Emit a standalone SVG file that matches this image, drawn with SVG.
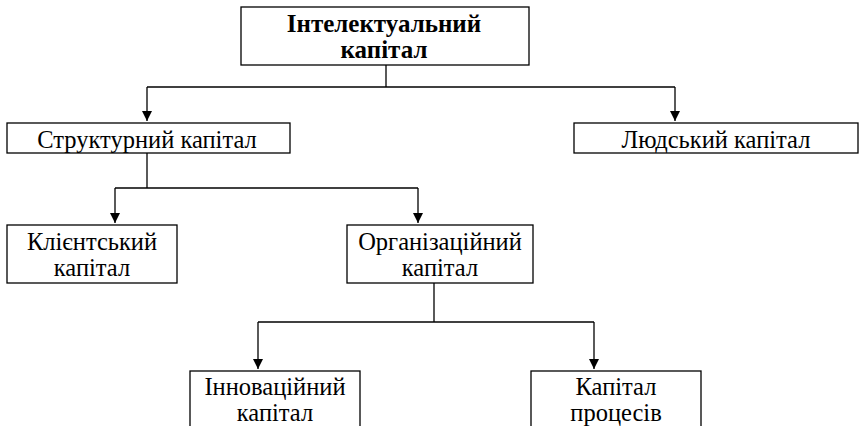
<svg xmlns="http://www.w3.org/2000/svg" width="859" height="426" viewBox="0 0 859 426">
<defs>
<marker id="arr" markerWidth="10" markerHeight="11" refX="10" refY="5" orient="auto" markerUnits="userSpaceOnUse">
<path d="M0,0 L10,5 L0,10 Z" fill="#000"/>
</marker>
</defs>
<style>
rect{fill:#fff;stroke:#000;stroke-width:1.3}
text{font-family:'Liberation Serif','Liberation Sans',serif;font-size:24.5px;fill:#000;text-anchor:middle}
.b{font-weight:bold;font-size:25px}
.c{fill:none;stroke:#000;stroke-width:1.3}
</style>
<rect x="0" y="0" width="859" height="426" style="stroke:none"/>
<g id="connectors">
<path class="c" d="M386,65 V87"/>
<path class="c" d="M147,87 H675"/>
<path class="c" d="M147,87 V121" marker-end="url(#arr)"/>
<path class="c" d="M675,87 V121" marker-end="url(#arr)"/>
<path class="c" d="M147,153 V188"/>
<path class="c" d="M115,188 H418"/>
<path class="c" d="M115,188 V223" marker-end="url(#arr)"/>
<path class="c" d="M418,188 V223" marker-end="url(#arr)"/>
<path class="c" d="M434,283 V322"/>
<path class="c" d="M258,322 H594"/>
<path class="c" d="M258,322 V369" marker-end="url(#arr)"/>
<path class="c" d="M594,322 V369" marker-end="url(#arr)"/>
</g>
<g id="intellectual">
<rect x="241" y="7" width="288" height="58"/>
<text class="b" x="384" y="32">Інтелектуальний</text>
<text class="b" x="384" y="58">капітал</text>
</g>
<g id="structural">
<rect x="7" y="123" width="283" height="30"/>
<text x="147" y="148">Структурний капітал</text>
</g>
<g id="human">
<rect x="574" y="123" width="284" height="30"/>
<text x="716" y="148">Людський капітал</text>
</g>
<g id="client">
<rect x="7" y="225" width="170" height="58"/>
<text x="92" y="250">Клієнтський</text>
<text x="92" y="276">капітал</text>
</g>
<g id="organizational">
<rect x="347" y="225" width="186" height="58"/>
<text x="440" y="250">Організаційний</text>
<text x="440" y="276">капітал</text>
</g>
<g id="innovation">
<rect x="190" y="371" width="170" height="70"/>
<text x="275" y="395">Інноваційний</text>
<text x="275" y="421">капітал</text>
</g>
<g id="process">
<rect x="531" y="371" width="170" height="70"/>
<text x="616" y="395">Капітал</text>
<text x="616" y="421">процесів</text>
</g>
</svg>
